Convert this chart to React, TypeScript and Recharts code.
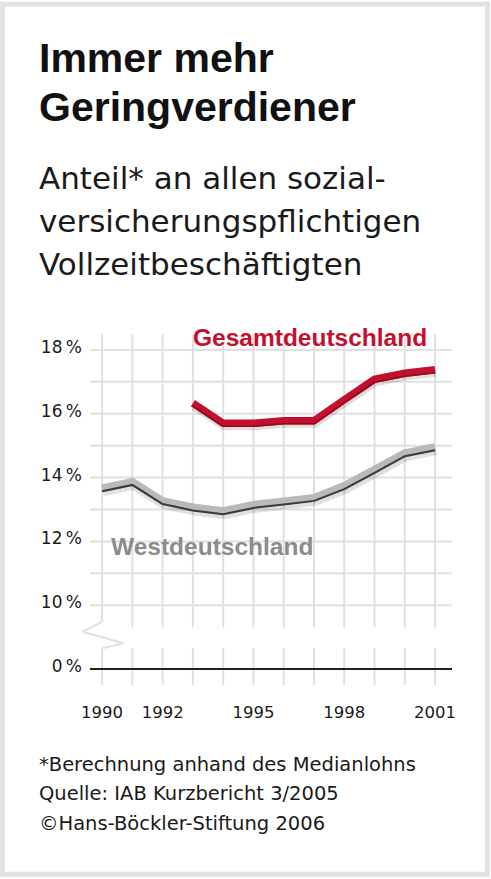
import React from 'react';
import { LineChart, Line, XAxis, YAxis, ReferenceLine } from 'recharts';

const years = [1990, 1991, 1992, 1993, 1994, 1995, 1996, 1997, 1998, 1999, 2000, 2001];
const westValues = [13.57, 13.77, 13.17, 12.97, 12.85, 13.05, 13.16, 13.27, 13.64, 14.15, 14.67, 14.86];
const gesamtValues = [null, null, null, 16.33, 15.7, 15.7, 15.78, 15.78, 16.44, 17.08, 17.27, 17.38];
const xTicks = [1990, 1992, 1995, 1998, 2001];
const yTicks = [8, 10, 12, 14, 16, 18];
const yTickLabels: Record<number, string> = {
  8: '0\u2009%',
  10: '10\u2009%',
  12: '12\u2009%',
  14: '14\u2009%',
  16: '16\u2009%',
  18: '18\u2009%',
};
const gridLevels = [10, 11, 12, 13, 14, 15, 16, 17, 18];
const breakZigzag: [number, number][] = [
  [1990, 9.48],
  [1989.36, 9.17],
  [1990.7, 8.81],
  [1990, 8.65],
];

const titleLines = ['Immer mehr', 'Geringverdiener'];
const subtitleLines = ['Anteil* an allen sozial-', 'versicherungspflichtigen', 'Vollzeitbeschäftigten'];
const footerLines = ['*Berechnung anhand des Medianlohns', 'Quelle: IAB Kurzbericht 3/2005', '©Hans-Böckler-Stiftung 2006'];
const seriesLabels = { gesamt: 'Gesamtdeutschland', west: 'Westdeutschland' };

const data = years.map((year, i) => ({ year, west: westValues[i], gesamt: gesamtValues[i] }));

const X_DOMAIN: [number, number] = [1989.6, 2001.56];
const Y_DOMAIN: [number, number] = [7.5, 18.5];
const GRID = '#e0e0e0';
const RED = '#c4102e';
const BOLD = '"Liberation Sans", Arial, sans-serif';
const REG = '"DejaVu Sans", sans-serif';

function XTick(props: any) {
  const { x, y, payload } = props;
  return (
    <text x={x} y={y + 33.3} textAnchor="middle" fontFamily={REG} fontSize={16.5} fill="#1a1a1a">
      {payload.value}
    </text>
  );
}

function YTick(props: any) {
  const { y, payload } = props;
  return (
    <text x={82} y={y + 3} textAnchor="end" fontFamily={REG} fontSize={17} fill="#1a1a1a">
      {yTickLabels[payload.value] ?? ''}
    </text>
  );
}

export default function App() {
  const verticalSegments: { key: string; seg: { x: number; y: number }[] }[] = [];
  years.forEach((yr) => {
    const topStart = yr === 1990 ? 9.48 : 9.31;
    const botEnd = yr === 1990 ? 8.65 : 8.66;
    verticalSegments.push({ key: `t${yr}`, seg: [{ x: yr, y: topStart }, { x: yr, y: 18.5 }] });
    verticalSegments.push({ key: `b${yr}`, seg: [{ x: yr, y: 7.5 }, { x: yr, y: botEnd }] });
  });
  const zig = breakZigzag.slice(0, -1).map((p, i) => ({
    key: `z${i}`,
    seg: [{ x: p[0], y: p[1] }, { x: breakZigzag[i + 1][0], y: breakZigzag[i + 1][1] }],
  }));

  return (
    <div style={{ position: 'absolute', left: 0, top: 0, width: 491, height: 879, background: '#fff' }}>
      <style>{`
        .band-up { transform: translate(0px, -3px); }
        .shadow-west { transform: translate(1px, 1px); }
        .shadow-red { transform: translate(1px, 3px); }
        .edge-red { transform: translate(0px, 3px); }
      `}</style>
      <svg width={491} height={879} style={{ position: 'absolute', left: 0, top: 0 }}>
        <rect x={2.5} y={4.2} width={485} height={870} fill="#fff" stroke="#e2e2e2" strokeWidth={5} />
        {titleLines.map((t, i) => (
          <text key={t} x={39} y={72.3 + i * 48.4} fontFamily={BOLD} fontWeight="bold" fontSize={41} fill="#111">
            {t}
          </text>
        ))}
        {subtitleLines.map((t, i) => (
          <text key={t} x={39} y={189 + i * 43} fontFamily={REG} fontSize={31} fill="#1a1a1a">
            {t}
          </text>
        ))}
        {footerLines.map((t, i) => (
          <text key={t} x={39} y={770.5 + i * 29.7} fontFamily={REG} fontSize={19.5} fill="#1a1a1a">
            {t}
          </text>
        ))}
      </svg>
      <div style={{ position: 'absolute', left: 0, top: 0 }}>
        <LineChart width={491} height={879} data={data} margin={{ top: 334, right: 39, bottom: 154, left: 0 }}>
          <XAxis
            dataKey="year"
            type="number"
            domain={X_DOMAIN}
            ticks={xTicks}
            allowDataOverflow
            axisLine={false}
            tickLine={false}
            tickSize={0}
            tickMargin={0}
            height={40}
            tick={<XTick />}
          />
          <YAxis
            type="number"
            domain={Y_DOMAIN}
            ticks={yTicks}
            allowDataOverflow
            axisLine={false}
            tickLine={false}
            tickSize={0}
            tickMargin={0}
            width={90}
            tick={<YTick />}
          />
          {gridLevels.map((lv) => (
            <ReferenceLine key={`h${lv}`} y={lv} stroke={GRID} strokeWidth={2} />
          ))}
          {verticalSegments.map((s) => (
            <ReferenceLine key={s.key} segment={s.seg} stroke={GRID} strokeWidth={2} ifOverflow="visible" />
          ))}
          {zig.map((s) => (
            <ReferenceLine key={s.key} segment={s.seg} stroke={GRID} strokeWidth={2} ifOverflow="visible" />
          ))}
          <ReferenceLine y={8} stroke="#222" strokeWidth={2} />
          <Line className="shadow-west" dataKey="west" stroke="rgba(0,0,0,0.12)" strokeWidth={8} dot={false} activeDot={false} isAnimationActive={false} />
          <Line className="band-up" dataKey="west" stroke="#b9b9b9" strokeWidth={8} dot={false} activeDot={false} isAnimationActive={false} />
          <Line dataKey="west" stroke="#3a3a3a" strokeWidth={2} dot={false} activeDot={false} isAnimationActive={false} />
          <Line className="shadow-red" dataKey="gesamt" stroke="rgba(0,0,0,0.13)" strokeWidth={8} dot={false} activeDot={false} isAnimationActive={false} />
          <Line dataKey="gesamt" stroke={RED} strokeWidth={7.5} dot={false} activeDot={false} isAnimationActive={false} />
          <Line className="edge-red" dataKey="gesamt" stroke="#8f0a1f" strokeWidth={1.5} dot={false} activeDot={false} isAnimationActive={false} />
        </LineChart>
      </div>
      <svg width={491} height={879} style={{ position: 'absolute', left: 0, top: 0, pointerEvents: 'none' }}>
        <text x={193} y={346} fontFamily={BOLD} fontWeight="bold" fontSize={24.5} fill={RED}>
          {seriesLabels.gesamt}
        </text>
        <text x={111} y={555} fontFamily={BOLD} fontWeight="bold" fontSize={24.5} fill="#8c8c8c">
          {seriesLabels.west}
        </text>
      </svg>
    </div>
  );
}
